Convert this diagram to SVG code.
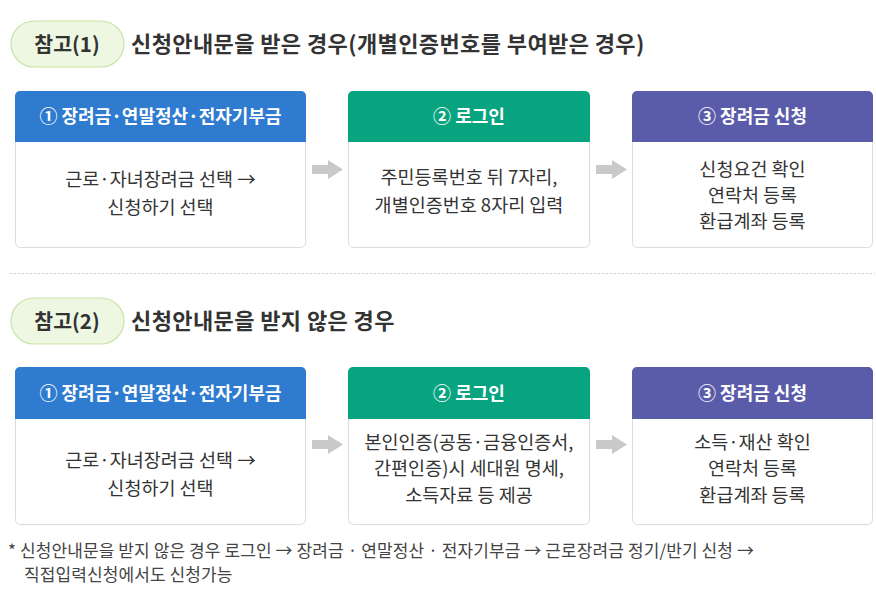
<svg xmlns="http://www.w3.org/2000/svg" width="876" height="598" viewBox="0 0 876 598">
<style>
.pill{fill:#eef7e2;stroke:#c9e4a6;stroke-width:1.2}
.pilltxt{font-family:"Noto Sans CJK KR","Noto Sans",sans-serif;font-size:20.5px;font-weight:700;fill:#333;text-anchor:middle}
.title{font-family:"Noto Sans CJK KR","Noto Sans",sans-serif;font-size:22px;font-weight:700;fill:#333;letter-spacing:0.4px}
.box{fill:#fff;stroke:#dcdcdc;stroke-width:1}
.h1{fill:#2e7bcf}.h2{fill:#08a480}.h3{fill:#5a5caa}
.htxt{font-family:"Noto Sans CJK KR","Noto Sans",sans-serif;font-size:18px;font-weight:700;fill:#fff;text-anchor:middle}
.btxt{font-family:"Noto Sans CJK KR","Noto Sans",sans-serif;font-size:18.5px;fill:#333;text-anchor:middle}
.arrow{fill:#c9c9c9}
.note{font-family:"Noto Sans CJK KR","Noto Sans",sans-serif;font-size:17px;fill:#444;letter-spacing:0.1px}
</style>

<g id="ref1-label">
<rect class="pill" x="11" y="21" width="113" height="46" rx="23"/>
<text class="pilltxt" x="67" y="51.5">참고(1)</text>
<text class="title" x="131" y="52">신청안내문을 받은 경우(개별인증번호를 부여받은 경우)</text>
</g>

<g id="r1-step1">
<rect class="box" x="15.5" y="91.5" width="290" height="156" rx="5"/>
<path class="h1" d="M15 96a5 5 0 0 1 5-5h281a5 5 0 0 1 5 5v46H15z"/>
<text class="htxt" x="160.5" y="123">① 장려금·연말정산·전자기부금</text>
<text class="btxt" x="160.5" y="185.5">근로·자녀장려금 선택 →</text>
<text class="btxt" x="160.5" y="213.5">신청하기 선택</text>
</g>

<g id="r1-step2">
<rect class="box" x="348.5" y="91.5" width="241" height="156" rx="5"/>
<path class="h2" d="M348 96a5 5 0 0 1 5-5h232a5 5 0 0 1 5 5v46H348z"/>
<text class="htxt" x="469" y="123">② 로그인</text>
<text class="btxt" x="469" y="184">주민등록번호 뒤 7자리,</text>
<text class="btxt" x="469" y="211.5">개별인증번호 8자리 입력</text>
</g>

<g id="r1-step3">
<rect class="box" x="632.5" y="91.5" width="240" height="156" rx="5"/>
<path class="h3" d="M632 96a5 5 0 0 1 5-5h231a5 5 0 0 1 5 5v46H632z"/>
<text class="htxt" x="752.5" y="123">③ 장려금 신청</text>
<text class="btxt" x="752.5" y="176">신청요건 확인</text>
<text class="btxt" x="752.5" y="202">연락처 등록</text>
<text class="btxt" x="752.5" y="228">환급계좌 등록</text>
</g>

<line x1="10" y1="273.5" x2="875" y2="273.5" stroke="#cfcfcf" stroke-width="1" stroke-dasharray="2 2"/>

<g id="ref2-label">
<rect class="pill" x="11" y="298" width="113" height="46" rx="23"/>
<text class="pilltxt" x="67" y="328.5">참고(2)</text>
<text class="title" x="131" y="329">신청안내문을 받지 않은 경우</text>
</g>

<g id="r2-step1">
<rect class="box" x="15.5" y="367.5" width="290" height="157" rx="5"/>
<path class="h1" d="M15 372a5 5 0 0 1 5-5h281a5 5 0 0 1 5 5v47H15z"/>
<text class="htxt" x="160.5" y="399.5">① 장려금·연말정산·전자기부금</text>
<text class="btxt" x="160.5" y="466.5">근로·자녀장려금 선택 →</text>
<text class="btxt" x="160.5" y="494.5">신청하기 선택</text>
</g>

<g id="r2-step2">
<rect class="box" x="348.5" y="367.5" width="241" height="157" rx="5"/>
<path class="h2" d="M348 372a5 5 0 0 1 5-5h232a5 5 0 0 1 5 5v47H348z"/>
<text class="htxt" x="469" y="399.5">② 로그인</text>
<text class="btxt" x="469" y="449">본인인증(공동·금융인증서,</text>
<text class="btxt" x="469" y="475">간편인증)시 세대원 명세,</text>
<text class="btxt" x="469" y="502">소득자료 등 제공</text>
</g>

<g id="r2-step3">
<rect class="box" x="632.5" y="367.5" width="240" height="157" rx="5"/>
<path class="h3" d="M632 372a5 5 0 0 1 5-5h231a5 5 0 0 1 5 5v47H632z"/>
<text class="htxt" x="752.5" y="399.5">③ 장려금 신청</text>
<text class="btxt" x="752.5" y="449">소득·재산 확인</text>
<text class="btxt" x="752.5" y="475">연락처 등록</text>
<text class="btxt" x="752.5" y="502">환급계좌 등록</text>
</g>

<g id="connectors">
<path class="arrow" d="M312 165h16v-5l15 9.5-15 9.5v-5h-16z"/>
<path class="arrow" d="M596 165h16v-5l15 9.5-15 9.5v-5h-16z"/>
<path class="arrow" d="M312 440h16v-5l15 9.5-15 9.5v-5h-16z"/>
<path class="arrow" d="M596 440h16v-5l15 9.5-15 9.5v-5h-16z"/>
</g>

<g id="footnote">
<text class="note" x="8" y="557">* 신청안내문을 받지 않은 경우 로그인 → 장려금 · 연말정산 · 전자기부금 → 근로장려금 정기/반기 신청 →</text>
<text class="note" x="24" y="581">직접입력신청에서도 신청가능</text>
</g>
</svg>
